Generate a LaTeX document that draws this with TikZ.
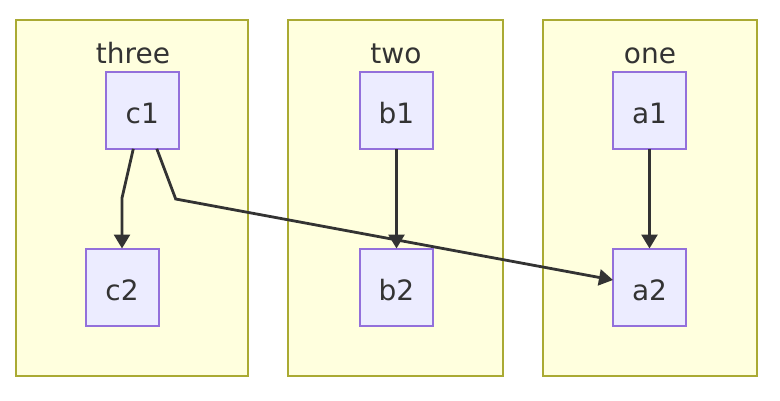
\documentclass[tikz,border=0pt]{standalone}
\usepackage{fontspec}
\setmainfont{DejaVu Sans}
\usetikzlibrary{arrows.meta}
\definecolor{grpfill}{HTML}{FFFFDE}
\definecolor{grpline}{HTML}{AAAA33}
\definecolor{boxfill}{HTML}{ECECFF}
\definecolor{boxline}{HTML}{9370DB}
\definecolor{inkcol}{HTML}{333333}

\begin{document}
\begin{tikzpicture}
  [x=1pt,y=-1pt,
   every node/.style={font=\fontsize{28}{32}\selectfont,text=inkcol,inner sep=0pt,outer sep=0pt},
   grp/.style={draw=grpline,fill=grpfill,line width=1.6pt,minimum height=356pt},
   box/.style={draw=boxline,fill=boxfill,line width=2pt,minimum width=73pt,minimum height=77pt,
     text height=27pt,text depth=0pt},
   link/.style={draw=inkcol,line width=2.8pt,-{Triangle[width=16pt,length=14pt]}}]
  \useasboundingbox (0,0) rectangle (780,400);

  % subgraphs
  \node[grp,minimum width=232pt] (three) at (132,198) {};
  \node[grp,minimum width=215pt] (two)   at (395.5,198) {};
  \node[grp,minimum width=214pt] (one)   at (650,198) {};
  \node[anchor=base] (threet) at (133,63) {three};
  \node[anchor=base] (twot)   at (396,63) {two};
  \node[anchor=base] (onet)   at (650,63) {one};

  % nodes
  \node[box] (c1) at (142.3,110.3) {c1};
  \node[box] (c2) at (122,287)     {c2};
  \node[box] (b1) at (396.5,110.3) {b1};
  \node[box] (b2) at (396.5,287)   {b2};
  \node[box] (a1) at (649.5,110.3) {a1};
  \node[box] (a2) at (649.5,287)   {a2};

  \foreach \from/\to in {b1/b2,a1/a2}
    \draw[link] (\from) -- (\to);

  \draw[link] ([xshift=-9pt]c1.south) -- (c2.north |- 0,198) -- (c2.north);
  \draw[link] ([xshift=14.5pt]c1.south) -- (175.7,199) -- ([yshift=7pt]a2.west);

\end{tikzpicture}
\end{document}
